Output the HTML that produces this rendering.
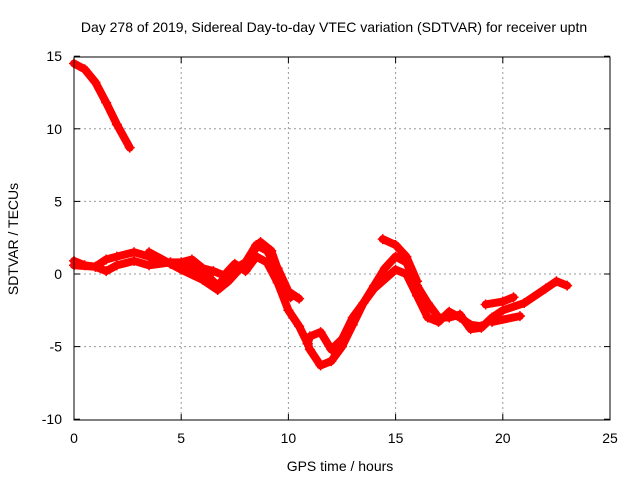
<!DOCTYPE html>
<html><head><meta charset="utf-8"><style>
body{margin:0;background:#fff}
svg text{font-family:"Liberation Sans",sans-serif;fill:#000}
</style></head><body>
<svg id="chart" width="640" height="480">
<rect width="640" height="480" fill="#fff"/>
<text x="334" y="32" font-size="14" text-anchor="middle">Day 278 of 2019, Sidereal Day-to-day VTEC variation (SDTVAR) for receiver uptn</text>
<g id="grid"></g>
<g id="ticks"></g>
<g id="series"></g>
<rect x="74" y="57" width="536" height="363" fill="none" stroke="#000" stroke-width="1"/>
<text x="340" y="471" font-size="14" text-anchor="middle">GPS time / hours</text>
<text x="18" y="239" font-size="14" text-anchor="middle" transform="rotate(-90 18 239)">SDTVAR / TECUs</text>
</svg>
<script>
const xTicks=[0,5,10,15,20,25];
const yTicks=[-10,-5,0,5,10,15];
const trackA=[[0,14.5],[0.5,14.1],[1,13.2],[1.5,11.8],[2,10.3],[2.6,8.7]];
const trackB=[[0,0.9],[0.5,0.6],[1,0.5],[1.5,1.0],[2,1.2],[2.8,1.5],[3.5,1.2],[4,0.8],[4.5,0.8],[5,0.6],[6,0.2],[6.7,-0.8],[7.3,0.2],[8,0.8],[8.5,2.0],[9,1.6],[9.5,0.4],[10,-1.2],[10.5,-1.7]];
const trackC=[[0,0.6],[1,0.5],[1.5,0.2],[2,0.6],[2.8,0.9],[3.5,0.6],[4.5,0.8],[5,0.8],[5.5,1.0],[6,0.4],[6.5,0.2],[7,-0.1],[7.5,0.7],[8,0.2],[8.5,1.2],[9,0.8],[9.5,-0.6],[10,-2.5],[10.5,-3.6],[10.9,-4.8]];
const trackD=[[3.5,1.5],[4.5,0.7],[5,0.3],[6,-0.4],[6.7,-1.1],[7.2,-0.5],[8,0.8],[8.7,2.2],[9.2,1.6],[9.7,-0.5],[10.1,-1.6]];
const trackE=[[10.9,-4.8],[11,-5.2],[11.5,-6.3],[12,-6],[12.5,-5],[13,-3.5],[13.5,-2],[14,-0.8],[14.5,0.4],[15,1.2],[15.5,0.8],[16,-0.8],[16.5,-2],[17,-3],[17.5,-3],[18,-2.8],[18.5,-3.8],[19,-3.7],[19.5,-3],[20,-2.5],[21,-2],[22,-1],[22.5,-0.5],[23,-0.8]];
const trackF=[[10.9,-4.8],[11,-4.3],[11.5,-4],[12,-5.2],[12.5,-4.5],[13,-3],[14,-1],[15,0.3],[15.5,0],[16,-1.5],[16.5,-3],[17,-3.3],[17.5,-2.6],[18,-3],[18.5,-3.5],[19,-3.6]];
const trackG=[[14.4,2.4],[15,2.0],[15.5,1.2],[16,-0.5]];
const trackH=[[19.2,-2.1],[20,-1.9],[20.5,-1.6]];
const trackI=[[19.5,-3.3],[20.8,-2.9]];
const tracks=[trackA,trackB,trackC,trackD,trackE,trackF,trackG,trackH,trackI];
const NS='http://www.w3.org/2000/svg';
const X=h=>74+h*536/25;
const Y=v=>274-v*363/25;
const grid=document.getElementById('grid'),ticks=document.getElementById('ticks'),series=document.getElementById('series');
function mk(t,a,p){const e=document.createElementNS(NS,t);for(const k in a)e.setAttribute(k,a[k]);p.appendChild(e);return e;}
xTicks.forEach(t=>{const x=X(t);
 if(t>0&&t<25){const g=mk('line',{x1:x,x2:x,y1:57,y2:420,stroke:'#999','stroke-dasharray':'2,3'},grid);
 
 }
 const tk=mk('text',{x:x,y:443,'font-size':14,'text-anchor':'middle'},ticks);tk.textContent=t;
 
 
 mk('line',{x1:x,x2:x,y1:420,y2:414,stroke:'#000'},ticks);mk('line',{x1:x,x2:x,y1:57,y2:63,stroke:'#000'},ticks);});
yTicks.forEach(t=>{const y=Y(t);
 if(t>-10&&t<15){const g=mk('line',{x1:74,x2:610,y1:y,y2:y,stroke:'#999','stroke-dasharray':'2,3'},grid);
 
 }
 const tk=mk('text',{x:62,y:y+5,'font-size':14,'text-anchor':'end'},ticks);tk.textContent=t;
 
 
 mk('line',{x1:74,x2:80,y1:y,y2:y,stroke:'#000'},ticks);mk('line',{x1:610,x2:604,y1:y,y2:y,stroke:'#000'},ticks);});
tracks.forEach((tr,i)=>{
 const p=mk('polyline',{points:tr.map(d=>X(d[0])+','+Y(d[1])).join(' '),fill:'none',stroke:'#f00','stroke-width':8,'stroke-linejoin':'round','stroke-linecap':'round'},series);
 
 
 tr.forEach(d=>{const x=X(d[0]),y=Y(d[1]);
  const m=mk('path',{d:`M${x-5},${y}H${x+5}M${x},${y-5}V${y+5}`,stroke:'#f00','stroke-width':1.5},series);
  
  });
});
</script>
</body></html>
